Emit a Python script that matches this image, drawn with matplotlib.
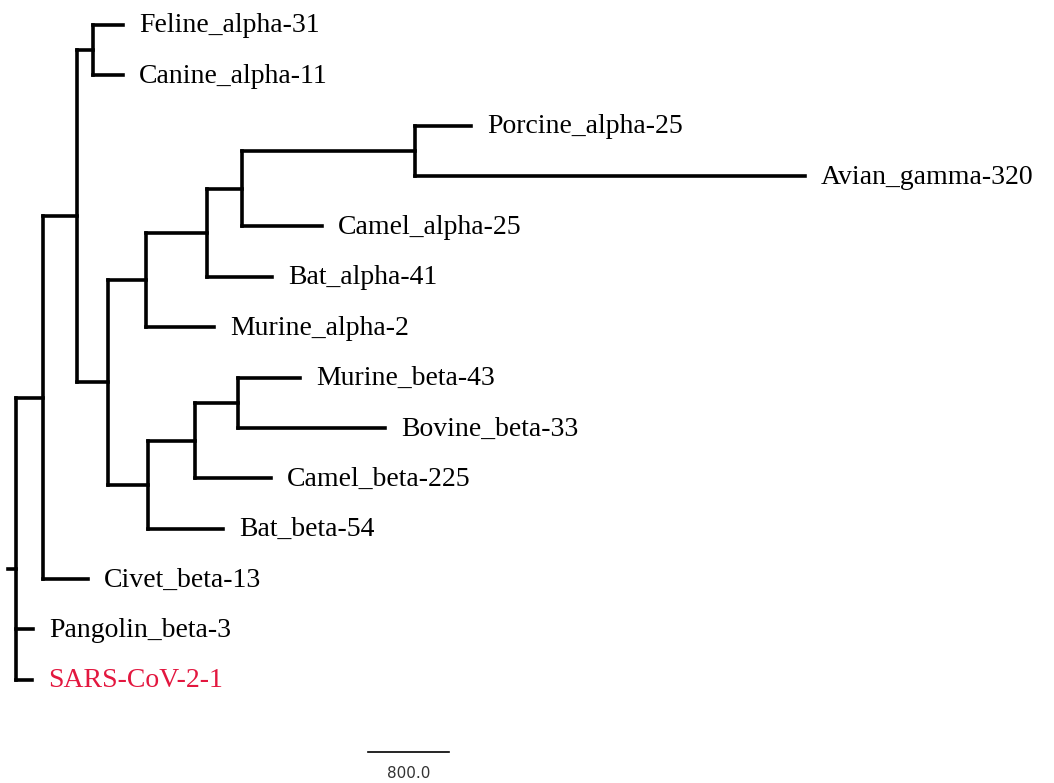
import matplotlib
matplotlib.use("Agg")
import matplotlib.pyplot as plt

# tree as (node, parent, branch length); leaves listed top to bottom
nodes = ["root", "A", "B", "C", "D", "E", "G", "H", "I", "F", "J", "K",
         "Feline_alpha-31", "Canine_alpha-11", "Porcine_alpha-25", "Avian_gamma-320",
         "Camel_alpha-25", "Bat_alpha-41", "Murine_alpha-2", "Murine_beta-43",
         "Bovine_beta-33", "Camel_beta-225", "Bat_beta-54", "Civet_beta-13",
         "Pangolin_beta-3", "SARS-CoV-2-1"]
parents = [None, "root", "A", "B", "B", "D", "E", "G", "H", "D", "F", "J",
           "C", "C", "I", "I", "H", "G", "E", "K", "K", "J", "F", "A",
           "root", "root"]
lengths = [0, 267, 335, 158, 307, 375, 602, 346, 1709, 395, 464, 425,
           297, 297, 553, 3852, 790, 642, 672, 612, 1451, 751, 740, 444,
           168, 158]
leaves = nodes[12:]
highlight = "SARS-CoV-2-1"
scale_len = 800.0

parent_of = dict(zip(nodes, parents))
blen = dict(zip(nodes, lengths))
children = {n: [c for c in nodes if parent_of[c] == n] for n in nodes}

xpos = {}
def set_x(n, x):
    xpos[n] = x
    for c in children[n]:
        set_x(c, x + blen[c])
set_x("root", 0.0)

ypos = {}
def set_y(n):
    if not children[n]:
        ypos[n] = leaves.index(n)
    else:
        ypos[n] = sum(set_y(c) for c in children[n]) / len(children[n])
    return ypos[n]
set_y("root")

fig = plt.figure(figsize=(10.54, 7.83), dpi=100)
ax = fig.add_axes([0, 0, 1, 1])
lw = 2.6
kw = dict(color="black", lw=lw, solid_capstyle="projecting")

ax.plot([-80, 0], [ypos["root"]] * 2, **kw)
for n in nodes:
    ch = children[n]
    if ch:
        ys = [ypos[c] for c in ch]
        ax.plot([xpos[n]] * 2, [min(ys), max(ys)], **kw)
    if parent_of[n] is None:
        continue
    ax.plot([xpos[parent_of[n]], xpos[n]], [ypos[n]] * 2, **kw)
    if not ch:
        col = "#e3173f" if n == highlight else "black"
        ax.text(xpos[n] + 160, ypos[n] + 0.02, n, va="center", ha="left",
                fontsize=20, family="Liberation Serif", color=col)

# scale bar
sx0 = 3475
ax.plot([sx0, sx0 + scale_len], [14.43, 14.43], color="black", lw=1.2)
ax.text(sx0 + scale_len / 2, 14.86, f"{scale_len:.1f}", ha="center", va="center",
        fontsize=11, color="#333333", family="DejaVu Sans")

ax.set_xlim(-158, 10252)
ax.set_ylim(15.05, -0.496)
ax.axis("off")
fig.savefig("out.png", dpi=100)
